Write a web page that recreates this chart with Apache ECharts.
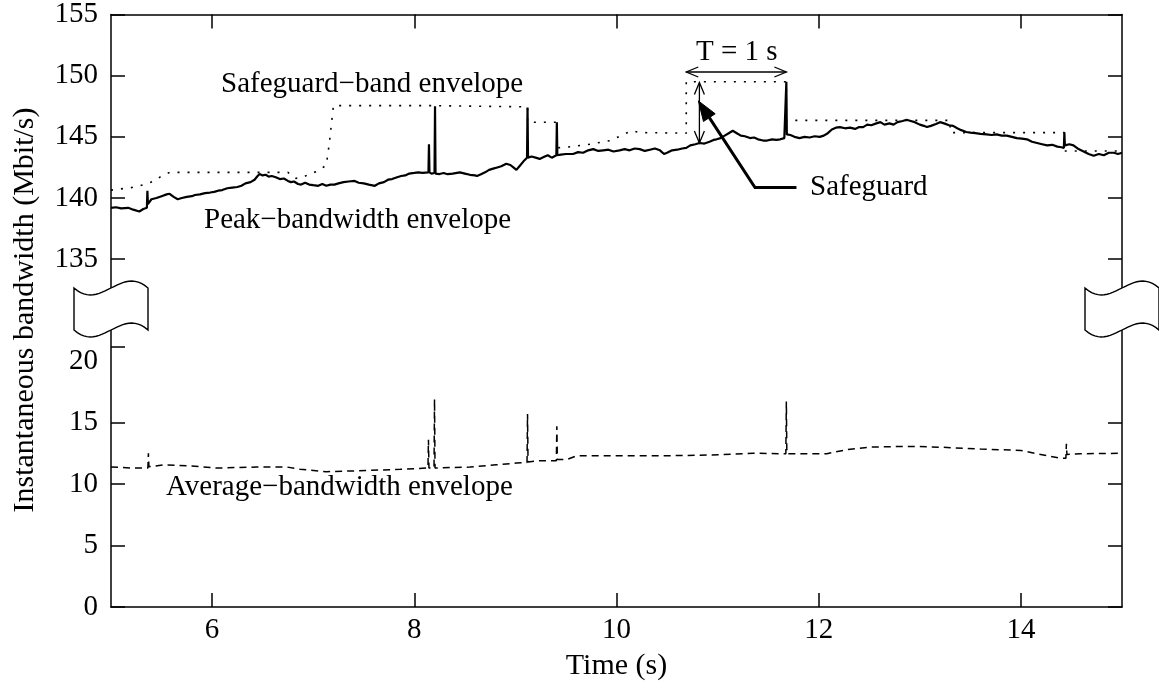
<!DOCTYPE html>
<html><head><meta charset="utf-8">
<script src="https://cdn.jsdelivr.net/npm/echarts@6/dist/echarts.min.js"></script>
<style>html,body{margin:0;padding:0;background:#fff}#c{width:1159px;height:689px}</style>
</head><body><div id="c"></div>
<script>
// ---- tick labels ----
const xTicks = [6, 8, 10, 12, 14];
const upperTicks = [135, 140, 145, 150, 155];
const lowerTicks = [0, 5, 10, 15, 20];
const lowerTickMarks = [0, 5, 10, 15, 21.2];
const lowerRightTickMarks = [0, 5, 10, 15];

// ---- series values [time s, Mbit/s] ----
const peakEnvelope = [
[5.00,139.2],[5.05,139.25],[5.10,139.15],[5.17,139.2],[5.22,139.05],[5.28,138.9],[5.32,139.1],[5.355,139.2],[5.36,140.6],[5.365,139.5],
[5.40,139.9],[5.45,140.0],[5.50,140.15],[5.55,140.3],[5.58,140.35],[5.62,140.1],[5.66,139.9],[5.70,140.0],[5.75,140.1],[5.80,140.15],
[5.83,140.25],[5.88,140.3],[5.93,140.4],[5.98,140.45],[6.02,140.5],[6.06,140.6],[6.10,140.65],[6.15,140.8],[6.20,140.85],[6.25,140.9],
[6.29,141.0],[6.33,141.2],[6.38,141.3],[6.42,141.5],[6.45,141.8],[6.47,141.96],[6.50,141.85],[6.53,141.9],[6.56,141.75],[6.59,141.8],
[6.63,141.7],[6.67,141.55],[6.71,141.6],[6.75,141.4],[6.78,141.3],[6.81,141.35],[6.85,141.15],[6.88,141.1],[6.92,141.25],[6.96,141.1],
[7.00,141.05],[7.05,141.0],[7.09,141.15],[7.13,141.0],[7.17,141.1],[7.21,141.1],[7.25,141.2],[7.30,141.3],[7.35,141.35],[7.41,141.4],
[7.45,141.25],[7.50,141.2],[7.55,141.1],[7.61,141.0],[7.65,141.2],[7.70,141.3],[7.74,141.5],[7.78,141.55],[7.83,141.7],[7.87,141.8],
[7.91,141.85],[7.95,142.0],[8.00,142.05],[8.04,142.1],[8.08,142.05],[8.14,142.1],[8.145,144.4],[8.15,142.1],[8.17,142.0],[8.20,142.05],
[8.205,147.5],[8.21,142.0],[8.25,141.96],[8.29,142.05],[8.33,141.95],[8.38,142.0],[8.45,142.1],[8.50,142.0],[8.55,141.9],[8.60,141.85],
[8.62,141.8],[8.66,141.95],[8.70,142.1],[8.74,142.3],[8.78,142.4],[8.82,142.5],[8.86,142.6],[8.91,142.8],[8.95,142.7],[8.98,142.5],
[9.01,142.3],[9.04,142.6],[9.08,143.0],[9.115,143.3],[9.12,147.4],[9.125,143.3],[9.16,143.4],[9.20,143.3],[9.24,143.2],[9.28,143.35],
[9.32,143.5],[9.36,143.3],[9.405,143.5],[9.41,146.2],[9.415,143.5],[9.45,143.55],[9.50,143.6],[9.57,143.6],[9.62,143.75],[9.67,143.7],
[9.72,143.9],[9.77,144.0],[9.82,143.85],[9.87,143.9],[9.92,143.95],[9.97,143.8],[10.03,143.9],[10.08,144.0],[10.13,143.9],[10.18,144.05],
[10.23,144.0],[10.28,143.85],[10.33,143.95],[10.38,144.05],[10.43,143.9],[10.47,143.6],[10.50,143.7],[10.55,143.9],[10.60,143.95],[10.65,144.05],
[10.69,144.1],[10.73,144.3],[10.78,144.4],[10.82,144.5],[10.87,144.45],[10.92,144.6],[10.96,144.75],[10.99,144.8],[11.03,144.9],[11.07,145.1],
[11.11,145.3],[11.15,145.5],[11.19,145.3],[11.23,145.1],[11.27,145.05],[11.32,144.9],[11.36,144.95],[11.40,144.8],[11.45,144.7],[11.49,144.7],
[11.54,144.8],[11.58,144.75],[11.62,144.8],[11.66,144.9],[11.675,145.0],[11.68,149.5],[11.685,145.2],[11.72,145.15],[11.76,145.0],[11.81,144.9],
[11.86,145.0],[11.91,144.95],[11.96,145.05],[12.01,145.0],[12.05,145.1],[12.09,145.3],[12.13,145.6],[12.17,145.75],[12.21,145.8],[12.26,145.7],
[12.31,145.75],[12.36,145.65],[12.40,145.8],[12.44,145.8],[12.48,146.0],[12.52,145.95],[12.57,146.1],[12.61,146.2],[12.65,146.0],[12.70,146.1],
[12.74,146.0],[12.78,146.2],[12.83,146.3],[12.87,146.4],[12.91,146.3],[12.95,146.2],[13.00,146.0],[13.04,145.9],[13.07,145.8],[13.11,145.9],
[13.16,146.05],[13.20,146.2],[13.24,146.1],[13.29,145.95],[13.33,145.9],[13.37,145.7],[13.41,145.55],[13.46,145.4],[13.50,145.35],[13.55,145.3],
[13.60,145.25],[13.66,145.2],[13.71,145.15],[13.76,145.2],[13.81,145.1],[13.86,145.1],[13.91,145.0],[13.96,144.9],[14.01,144.85],[14.06,144.8],
[14.11,144.6],[14.16,144.5],[14.21,144.4],[14.26,144.3],[14.31,144.35],[14.36,144.2],[14.40,144.15],[14.425,144.1],[14.43,145.35],[14.435,144.3],
[14.48,144.4],[14.52,144.3],[14.57,144.0],[14.62,143.8],[14.67,143.6],[14.72,143.45],[14.77,143.6],[14.82,143.5],[14.87,143.7],[14.92,143.7],
[14.96,143.6],[15.00,143.7]
];
const safeguardEnvelope = [
[5.00,140.65],[5.20,140.85],[5.33,141.1],[5.43,141.4],[5.50,141.8],[5.58,142.1],[6.50,142.1],[6.75,142.1],[6.82,141.6],[6.90,141.7],
[6.97,142.0],[7.05,142.2],[7.13,142.7],[7.16,144.5],[7.20,147.55],[8.20,147.55],[9.12,147.45],[9.12,146.2],[9.41,146.2],[9.41,144.1],
[9.50,144.15],[9.74,144.4],[9.94,144.7],[10.07,145.2],[10.15,145.5],[10.23,145.35],[10.69,145.3],[10.69,149.5],[11.68,149.5],[11.68,146.35],
[13.30,146.35],[13.30,145.35],[14.43,145.35],[14.43,143.85],[15.00,143.85]
];
const averageEnvelope = [
[5.00,11.38],[5.22,11.3],[5.365,11.3],[5.37,12.5],[5.375,11.4],[5.52,11.56],[5.78,11.48],[6.05,11.3],[6.44,11.38],[6.74,11.38],
[6.87,11.2],[7.13,11.0],[7.53,11.1],[7.86,11.2],[8.135,11.3],[8.14,13.6],[8.145,11.3],[8.195,11.3],[8.20,16.9],[8.205,11.3],
[8.55,11.38],[8.81,11.56],[9.01,11.7],[9.115,11.75],[9.12,15.7],[9.125,11.8],[9.24,11.9],[9.405,11.9],[9.41,14.7],[9.415,12.0],
[9.51,12.0],[9.61,12.3],[10.03,12.3],[10.53,12.3],[11.02,12.38],[11.35,12.5],[11.675,12.46],[11.68,16.7],[11.685,12.46],[12.08,12.46],
[12.28,12.8],[12.51,13.0],[12.80,13.05],[13.00,13.05],[13.27,12.97],[13.60,12.84],[14.00,12.73],[14.26,12.3],[14.39,12.1],[14.445,12.1],
[14.45,13.27],[14.455,12.4],[14.59,12.46],[15.00,12.5]
];

// ---- annotation anchors (data coordinates of the upper panel) ----
const periodArrow = [[10.69, 150.3], [11.68, 150.3]];
const safeguardArrow = [[10.82, 149.45], [10.82, 144.5]];
const safeguardPointer = [[11.78, 140.86], [11.37, 140.86], [10.81, 147.94]];

const FONT = '"Liberation Serif","Times New Roman",serif';
const FS = 29;
const AX = {color:'#000', width:1.5};

const chart = echarts.init(document.getElementById('c'), null, {renderer:'canvas'});

const tickStyle = (vals) => ({show:true, inside:true, length:14, lineStyle:AX, customValues:vals});
const lab = (vals, margin) => ({show:true, customValues:vals, color:'#000', fontSize:FS, fontFamily:FONT, margin:margin});

chart.setOption({
  animation:false,
  backgroundColor:'#fff',
  grid:[
    {left:111, right:37, top:13, height:297},
    {left:111, right:37, top:310, height:297}
  ],
  xAxis:[
    {gridIndex:0, type:'value', min:5, max:15, position:'top',
     axisLine:{show:true, onZero:false, lineStyle:AX}, axisTick:tickStyle(xTicks),
     axisLabel:{show:false}, splitLine:{show:false}},
    {gridIndex:1, type:'value', min:5, max:15, position:'bottom',
     axisLine:{show:true, onZero:false, lineStyle:AX}, axisTick:tickStyle(xTicks),
     axisLabel:lab(xTicks, 9), splitLine:{show:false},
     name:'Time (s)', nameLocation:'middle', nameGap:44,
     nameTextStyle:{color:'#000', fontSize:30, fontFamily:FONT}}
  ],
  yAxis:[
    {gridIndex:0, type:'value', min:130.85, max:155, position:'left',
     axisLine:{show:true, onZero:false, lineStyle:AX}, axisTick:tickStyle(upperTicks),
     axisLabel:lab(upperTicks, 13), splitLine:{show:false}},
    {gridIndex:0, type:'value', min:130.85, max:155, position:'right',
     axisLine:{show:true, onZero:false, lineStyle:AX}, axisTick:tickStyle(upperTicks),
     axisLabel:{show:false}, splitLine:{show:false}},
    {gridIndex:1, type:'value', min:0, max:24.15, position:'left',
     axisLine:{show:true, onZero:false, lineStyle:AX}, axisTick:tickStyle(lowerTickMarks),
     axisLabel:lab(lowerTicks, 13), splitLine:{show:false}},
    {gridIndex:1, type:'value', min:0, max:24.15, position:'right',
     axisLine:{show:true, onZero:false, lineStyle:AX}, axisTick:tickStyle(lowerRightTickMarks),
     axisLabel:{show:false}, splitLine:{show:false}}
  ],
  series:[
    {name:'Safeguard-band envelope', type:'line', xAxisIndex:0, yAxisIndex:0, data:safeguardEnvelope,
     symbol:'none', lineStyle:{color:'#000', width:1.6, type:[2,8]}, z:3},
    {name:'Peak-bandwidth envelope', type:'line', xAxisIndex:0, yAxisIndex:0, data:peakEnvelope,
     symbol:'none', lineStyle:{color:'#000', width:2.2}, z:4},
    {name:'Average-bandwidth envelope', type:'line', xAxisIndex:1, yAxisIndex:2, data:averageEnvelope,
     symbol:'none', lineStyle:{color:'#000', width:1.5, type:[7,5]}, z:4}
  ]
});

function P(pt){ return chart.convertToPixel({xAxisIndex:0, yAxisIndex:0}, pt); }

function openHead(tip, from, len, half){
  const dx = tip[0]-from[0], dy = tip[1]-from[1];
  const L = Math.hypot(dx,dy), ux = dx/L, uy = dy/L;
  const bx = tip[0]-ux*len, by = tip[1]-uy*len;
  return [[bx-uy*half, by+ux*half], tip, [bx+uy*half, by-ux*half]];
}
function doubleArrow(a, b){
  const p1 = P(a), p2 = P(b);
  const st = {stroke:'#000', lineWidth:1.3, fill:null};
  return [
    {type:'polyline', shape:{points:[p1,p2]}, style:st, z:50},
    {type:'polyline', shape:{points:openHead(p1,p2,12,5)}, style:st, z:50},
    {type:'polyline', shape:{points:openHead(p2,p1,12,5)}, style:st, z:50}
  ];
}

const ptr = safeguardPointer.map(P);
const tip = ptr[2], prev = ptr[1];
const d = Math.hypot(tip[0]-prev[0], tip[1]-prev[1]);
const ux = (tip[0]-prev[0])/d, uy = (tip[1]-prev[1])/d;
const hb = [tip[0]-ux*20, tip[1]-uy*20];
const headPts = [tip, [hb[0]-uy*7, hb[1]+ux*7], [hb[0]+uy*7, hb[1]-ux*7]];

// axis-break flag outline (cubic wave edges), relative to its centre
function bez(p0,p1,p2,p3,n){
  const out=[];
  for(let i=0;i<=n;i++){const t=i/n,a=(1-t)**3,b=3*(1-t)**2*t,c=3*(1-t)*t*t,e=t**3;
    out.push([a*p0[0]+b*p1[0]+c*p2[0]+e*p3[0], a*p0[1]+b*p1[1]+c*p2[1]+e*p3[1]]);}
  return out;
}
const flagPts = bez([-37,-22],[-10,2],[10,-46],[37,-22],24).concat(bez([37,20],[10,-4],[-10,44],[-37,20],24));
const g0 = chart.getModel().getComponent('grid',0).coordinateSystem.getRect();
const breakY = g0.y + g0.height;
const flagAt = (cx) => ({type:'polygon', shape:{points:flagPts.map(p=>[p[0]+cx, p[1]+breakY])},
  style:{fill:'#fff', stroke:'#000', lineWidth:1.4}, z:70});

const txt = (s, x, y) => ({type:'text', x:x, y:y, z:60,
  style:{text:s, fill:'#000', font: FS+'px '+FONT, textAlign:'left', textVerticalAlign:'middle'}});

chart.setOption({
  graphic:[
    ...doubleArrow(periodArrow[0], periodArrow[1]),
    ...doubleArrow(safeguardArrow[0], safeguardArrow[1]),
    {type:'polyline', shape:{points:[ptr[0], ptr[1], hb]}, style:{stroke:'#000', lineWidth:3, fill:null}, z:50},
    {type:'polygon', shape:{points:headPts}, style:{fill:'#000', stroke:'#000', lineWidth:1}, z:50},
    flagAt(g0.x),
    flagAt(g0.x + g0.width),
    txt('Safeguard\u2212band envelope', 221, 84),
    txt('Peak\u2212bandwidth envelope', 204, 220),
    txt('Average\u2212bandwidth envelope', 166, 487),
    txt('T = 1 s', 696, 52),
    txt('Safeguard', 810, 187),
    {type:'text', x:25, y:310, rotation:Math.PI/2, z:60,
     style:{text:'Instantaneous bandwidth (Mbit/s)', fill:'#000', font: '30px '+FONT, textAlign:'center', textVerticalAlign:'middle'}}
  ]
});
</script>
</body></html>
